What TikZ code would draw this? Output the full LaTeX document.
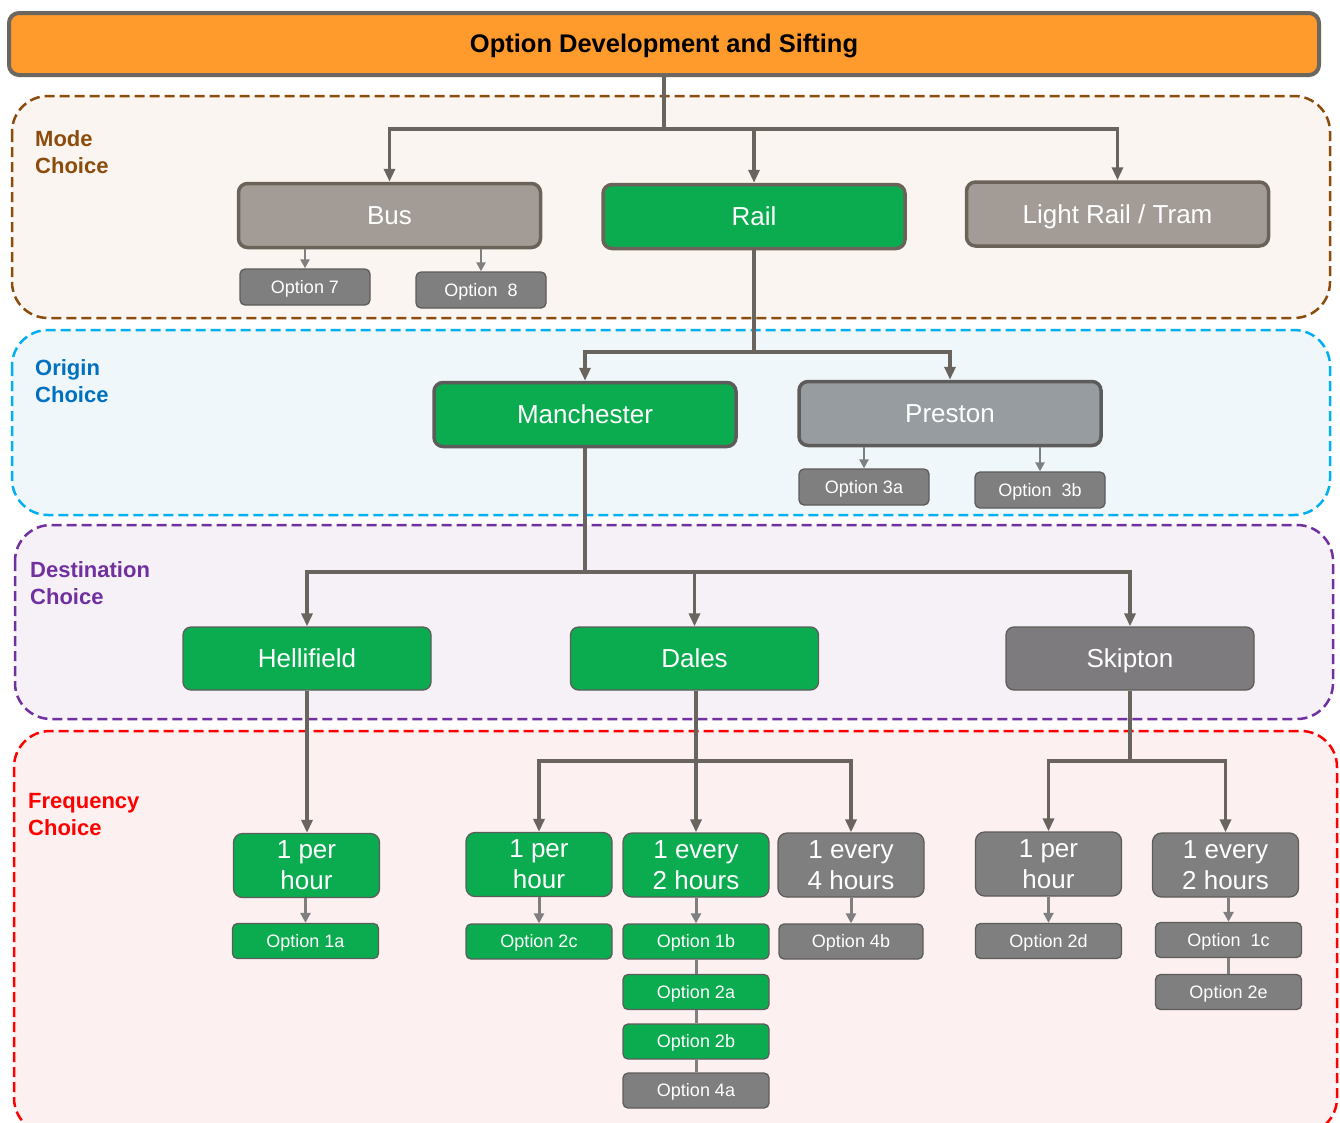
\documentclass[tikz,border=0pt]{standalone}
\usepackage{fontspec}
\setmainfont{Liberation Sans}
\usetikzlibrary{arrows.meta}

\definecolor{titleFill}{HTML}{FF9A2C}
\definecolor{titleEdge}{HTML}{6B665F}
\definecolor{edgeC}{HTML}{6B6259}
\definecolor{thinEdge}{HTML}{5E5C5A}
\definecolor{lineC}{HTML}{6A645E}
\definecolor{subC}{HTML}{7F7F7F}
\definecolor{greenC}{HTML}{0BAC50}
\definecolor{busGray}{HTML}{A39C96}
\definecolor{blueGray}{HTML}{969C9F}
\definecolor{darkGray}{HTML}{7E7B7F}
\definecolor{optGray}{HTML}{7F7F7F}
\definecolor{modeC}{HTML}{8B4C0C}
\definecolor{modeF}{HTML}{FAF5F1}
\definecolor{originC}{HTML}{00B0F0}
\definecolor{originT}{HTML}{0070C0}
\definecolor{originF}{HTML}{EFF7FB}
\definecolor{destC}{HTML}{7030A0}
\definecolor{destF}{HTML}{F6F1F7}
\definecolor{freqC}{HTML}{FF0000}
\definecolor{freqF}{HTML}{FCF0F0}

\begin{document}
\begin{tikzpicture}[x=1pt,y=-1pt,
  region/.style={line width=2.5pt, rounded corners=36pt, dash pattern=on 10pt off 5pt},
  lab/.style={anchor=north west, inner sep=0pt, align=left, font=\fontsize{22}{27}\selectfont\bfseries},
  bignode/.style={rounded corners=9pt, line width=3.5pt, draw=edgeC, text=white,
    font=\fontsize{26}{31}\selectfont, text height=22pt, text depth=3.4pt,
    minimum width=302pt, minimum height=64pt, inner sep=0pt},
  destnode/.style={rounded corners=8pt, line width=1.3pt, draw=thinEdge, text=white,
    font=\fontsize{26}{31}\selectfont, text height=22pt, text depth=3.4pt,
    minimum width=248pt, minimum height=63pt, inner sep=0pt},
  freqnode/.style={rounded corners=9pt, line width=1.3pt, draw=thinEdge, text=white, align=center,
    font=\fontsize{26}{31}\selectfont, minimum width=146pt, minimum height=64pt, inner sep=0pt},
  optnode/.style={rounded corners=5pt, line width=1.3pt, draw=thinEdge, text=white,
    font=\fontsize{18}{22}\selectfont, text height=15pt, text depth=2.1pt,
    minimum width=130pt, minimum height=36pt, inner sep=0pt},
  foptnode/.style={optnode, minimum width=146pt, minimum height=35pt},
  main/.style={line width=3.5pt, draw=lineC},
  arr/.style={main, -{Triangle[length=13pt,width=11pt]}},
  subarr/.style={line width=2.2pt, draw=subC, -{Triangle[length=9pt,width=9pt]}},
  farr/.style={line width=3pt, draw=subC, -{Triangle[length=10pt,width=10pt]}},
  chain/.style={line width=3pt, draw=subC}
]
\useasboundingbox (0,0) rectangle (1340,1122);
\clip (0,0) rectangle (1340,1122);
\fill[white] (0,0) rectangle (1340,1122);

% choice bands
\draw[region, draw=modeC, fill=modeF] (12,96) rectangle (1330,318);
\draw[region, draw=originC, fill=originF] (12,330) rectangle (1330,515);
\draw[region, draw=destC, fill=destF] (15,525) rectangle (1333,719);
\draw[region, draw=freqC, fill=freqF] (14,731) rectangle (1337,1134);

\node[lab, text=modeC] (modeLab) at (35,130) {Mode\\Choice};
\node[lab, text=originT] (originLab) at (35,359) {Origin\\Choice};
\node[lab, text=destC] (destLab) at (30,561) {Destination\\Choice};
\node[lab, text=freqC] (freqLab) at (28,793) {Frequency\\Choice};

% title bar
\node[rounded corners=10pt, line width=4pt, draw=titleEdge, fill=titleFill,
  minimum width=1310pt, minimum height=62pt, inner sep=0pt, text height=20pt, text depth=2.1pt,
  font=\fontsize{25.5}{30}\selectfont\bfseries] (title) at (664,44) {Option Development and Sifting};

% mode
\node[bignode, fill=busGray] (bus) at (389.5,215.5) {Bus};
\node[bignode, fill=greenC] (rail) at (754,216.5) {Rail};
\node[bignode, fill=busGray] (tram) at (1117.5,214) {Light Rail / Tram};
\node[optnode, fill=optGray] (o7) at (305,287) {Option 7};
\node[optnode, fill=optGray] (o8) at (481,290) {Option~ 8};

% origin
\node[bignode, fill=greenC, draw=thinEdge] (man) at (585,414.5) {Manchester};
\node[bignode, fill=blueGray, draw=thinEdge] (pre) at (950,413.5) {Preston};
\node[optnode, fill=optGray] (o3a) at (864,487) {Option 3a};
\node[optnode, fill=optGray] (o3b) at (1040,490) {Option~ 3b};

% destination
\node[destnode, fill=greenC] (hel) at (307,658.5) {Hellifield};
\node[destnode, fill=greenC] (dal) at (694.5,658.5) {Dales};
\node[destnode, fill=darkGray] (ski) at (1130,658.5) {Skipton};

% frequency
\node[freqnode, fill=greenC] (f1) at (306.5,865.5) {1 per\\hour};
\node[foptnode, fill=greenC] (o1a) at (305.5,941) {Option 1a};
\node[freqnode, fill=greenC] (f2) at (539,864.5) {1 per\\hour};
\node[foptnode, fill=greenC] (o2c) at (539,941.5) {Option 2c};
\node[freqnode, fill=greenC] (f3) at (696,865) {1 every\\2 hours};
\node[foptnode, fill=greenC] (o1b) at (696,941.5) {Option 1b};
\node[foptnode, fill=greenC] (o2a) at (696,992) {Option 2a};
\node[foptnode, fill=greenC] (o2b) at (696,1041.5) {Option 2b};
\node[foptnode, fill=optGray] (o4a) at (696,1090.5) {Option 4a};
\node[freqnode, fill=optGray] (f4) at (851,865) {1 every\\4 hours};
\node[foptnode, fill=optGray, minimum width=144pt] (o4b) at (851,941.5) {Option 4b};
\node[freqnode, fill=optGray] (f5) at (1048.5,864) {1 per\\hour};
\node[foptnode, fill=optGray] (o2d) at (1048.5,941) {Option 2d};
\node[freqnode, fill=optGray] (f6) at (1225.5,865) {1 every\\2 hours};
\node[foptnode, fill=optGray] (o1c) at (1228.5,940) {Option~ 1c};
\node[foptnode, fill=optGray] (o2e) at (1228.5,992) {Option 2e};

% junction points
\coordinate (j1) at (664,129);
\coordinate (j2) at (754,352);
\coordinate (j3) at (585,572);
\coordinate (j4) at (696,761);
\coordinate (j5) at (1130,761);

% tree connectors
\draw[main] (title.south) -- (j1);
\draw[arr] (j1) -| (bus.north);
\draw[arr] (j1) -| (rail.north);
\draw[arr] (j1) -| (tram.north);

\draw[main] (rail.south) -- (j2);
\draw[arr] (j2) -| (man.north);
\draw[arr] (j2) -| (pre.north);

\draw[main] (man.south) -- (j3);
\draw[arr] (j3) -| (hel.north);
\draw[arr] (j3) -| (dal.north);
\draw[arr] (j3) -| (ski.north);

\draw[arr] (hel.south) -- (f1.north -| hel.south);
\draw[main] (dal.south -| j4) -- (j4);
\draw[arr] (j4) -| (f2.north);
\draw[arr] (j4) -- (f3.north);
\draw[arr] (j4) -| (f4.north);
\draw[main] (ski.south) -- (j5);
\draw[arr] (j5) -| (f5.north);
\draw[arr] (j5) -| (f6.north);

% option arrows
\draw[subarr] (bus.south -| o7.north) -- (o7.north);
\draw[subarr] (bus.south -| o8.north) -- (o8.north);
\draw[subarr] (pre.south -| o3a.north) -- (o3a.north);
\draw[subarr] (pre.south -| o3b.north) -- (o3b.north);
\draw[farr] (f1.south -| o1a.north) -- (o1a.north);
\draw[farr] (f2.south -| o2c.north) -- (o2c.north);
\draw[farr] (f3.south -| o1b.north) -- (o1b.north);
\draw[farr] (f4.south -| o4b.north) -- (o4b.north);
\draw[farr] (f5.south -| o2d.north) -- (o2d.north);
\draw[farr] (f6.south -| o1c.north) -- (o1c.north);

% stacked option links
\draw[chain] (o1b.south) -- (o2a.north);
\draw[chain] (o2a.south) -- (o2b.north);
\draw[chain] (o2b.south) -- (o4a.north);
\draw[chain] (o1c.south) -- (o2e.north);
\end{tikzpicture}
\end{document}
